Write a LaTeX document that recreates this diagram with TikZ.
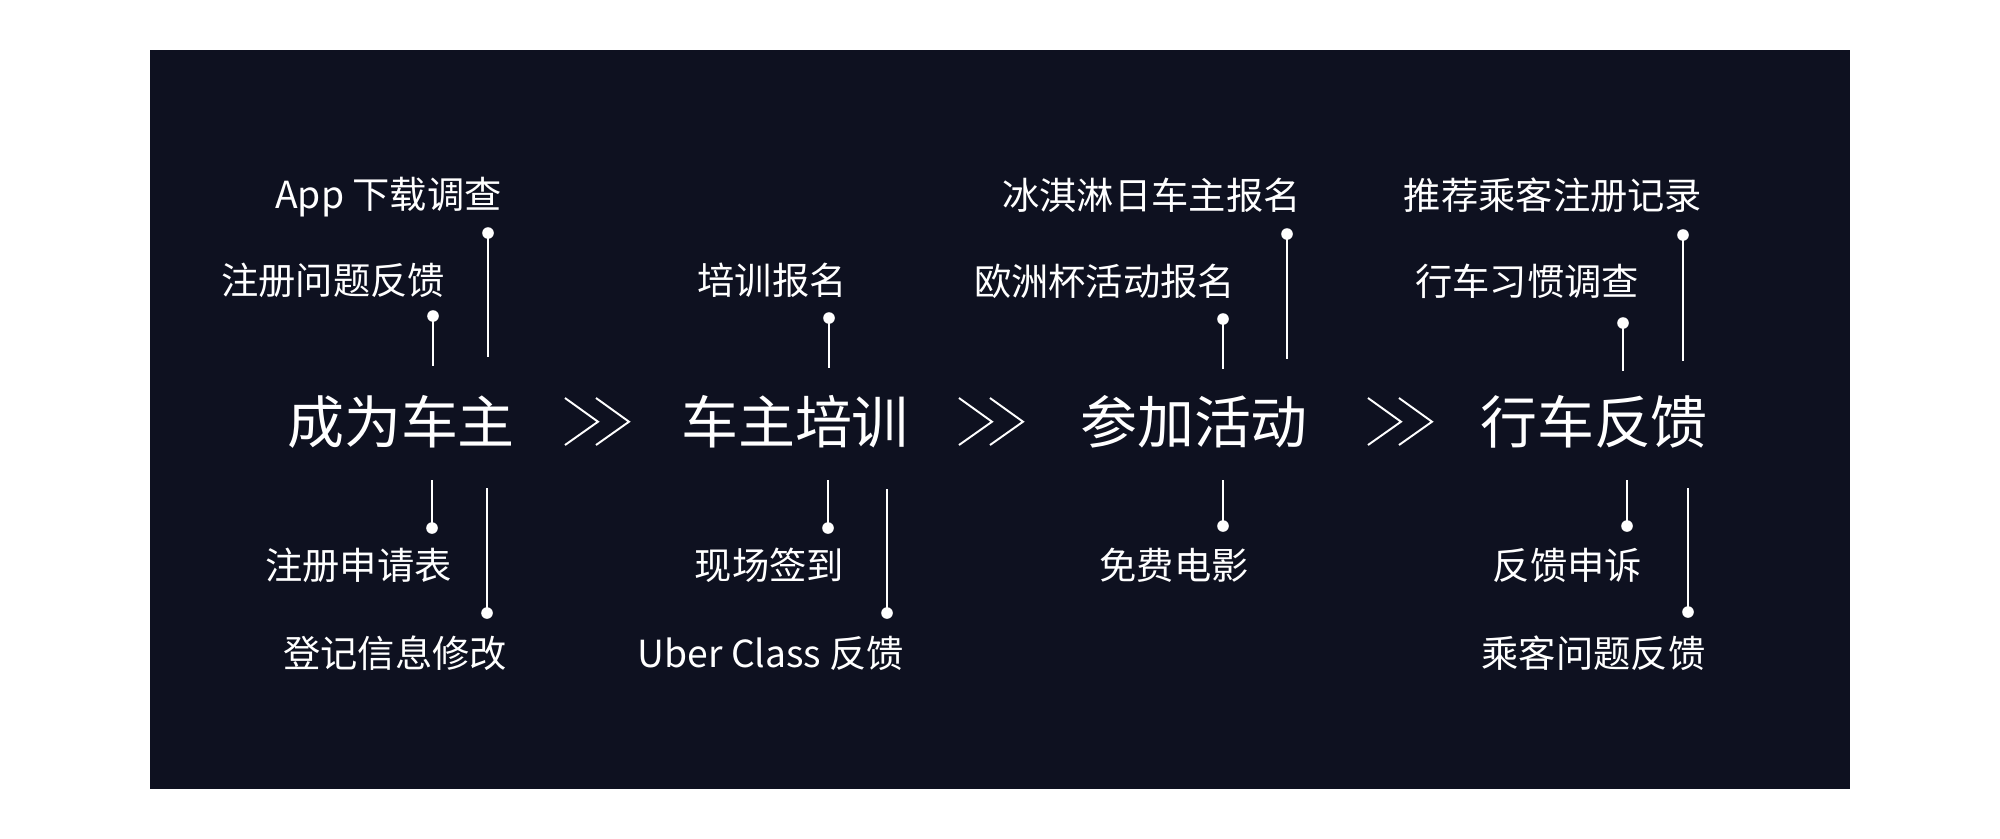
\documentclass[tikz,border=0pt]{standalone}
\usepackage{fontspec}
\setmainfont{Noto Sans CJK SC}
\definecolor{bgdark}{HTML}{0E1120}
\tikzset{
  lbl/.style={text=white, inner sep=0pt, font=\fontsize{10.6pt}{12pt}\selectfont, anchor=center},
  ttl/.style={text=white, inner sep=0pt, font=\fontsize{16.2pt}{18pt}\selectfont, anchor=center},
  pinline/.style={draw=white, line width=0.8pt},
  chev/.style={draw=white, line width=0.55pt, line join=miter},
}
\newcommand{\pindot}[1]{\fill[white] (#1) circle[radius=0.058cm];}
\begin{document}
\begin{tikzpicture}[x=0.01cm, y=-0.01cm]
\useasboundingbox (0,0) rectangle (2000,838);
\fill[white] (0,0) rectangle (2000,838);
\fill[bgdark] (150,50) rectangle (1850,789);

% titles
\node[ttl] (t1) at (401,421.5) {成为车主};
\node[ttl] (t2) at (795,421.5) {车主培训};
\node[ttl] (t3) at (1194,421.5) {参加活动};
\node[ttl] (t4) at (1594,421.5) {行车反馈};

% chevrons
\foreach \L in {565,959,1368}{
  \draw[chev] (\L,398) -- (\L+33,421.7) -- (\L,445);
  \draw[chev] (\L+31,398) -- (\L+64,421.7) -- (\L+31,445);
}

% group 1 labels
\node[lbl] (a1) at (388.5,197.5) {App 下载调查};
\node[lbl] (a2) at (333,280) {注册问题反馈};
\node[lbl] (a3) at (358.5,565) {注册申请表};
\node[lbl] (a4) at (395,653.5) {登记信息修改};
% group 2
\node[lbl] (b2) at (772,280) {培训报名};
\node[lbl] (b3) at (769.5,565) {现场签到};
\node[lbl] (b4) at (771,653.5) {Uber Class 反馈};
% group 3
\node[lbl] (c1) at (1151.5,195.5) {冰淇淋日车主报名};
\node[lbl] (c2) at (1104.5,281.5) {欧洲杯活动报名};
\node[lbl] (c3) at (1174,565) {免费电影};
% group 4
\node[lbl] (d1) at (1553,195) {推荐乘客注册记录};
\node[lbl] (d2) at (1527,281.5) {行车习惯调查};
\node[lbl] (d3) at (1567.5,565) {反馈申诉};
\node[lbl] (d4) at (1593.5,653.5) {乘客问题反馈};

% pin coordinates
\coordinate (a1d) at (488,233);  \coordinate (a1e) at (488,357);
\coordinate (a2d) at (433,316);  \coordinate (a2e) at (433,366);
\coordinate (a3d) at (432,528);  \coordinate (a3e) at (432,480);
\coordinate (a4d) at (487,613);  \coordinate (a4e) at (487,488);

\coordinate (b2d) at (829,318);  \coordinate (b2e) at (829,368);
\coordinate (b3d) at (828,528);  \coordinate (b3e) at (828,480);
\coordinate (b4d) at (887,613);  \coordinate (b4e) at (887,489);

\coordinate (c1d) at (1287,234); \coordinate (c1e) at (1287,359);
\coordinate (c2d) at (1223,319); \coordinate (c2e) at (1223,369);
\coordinate (c3d) at (1223,526); \coordinate (c3e) at (1223,480);

\coordinate (d1d) at (1683,235); \coordinate (d1e) at (1683,361);
\coordinate (d2d) at (1623,323); \coordinate (d2e) at (1623,371);
\coordinate (d3d) at (1627,526); \coordinate (d3e) at (1627,480);
\coordinate (d4d) at (1688,612); \coordinate (d4e) at (1688,488);

\foreach \p in {a1,a2,a3,a4,b2,b3,b4,c1,c2,c3,d1,d2,d3,d4}{
  \draw[pinline] (\p d) -- (\p e);
  \pindot{\p d}
}
\end{tikzpicture}
\end{document}
